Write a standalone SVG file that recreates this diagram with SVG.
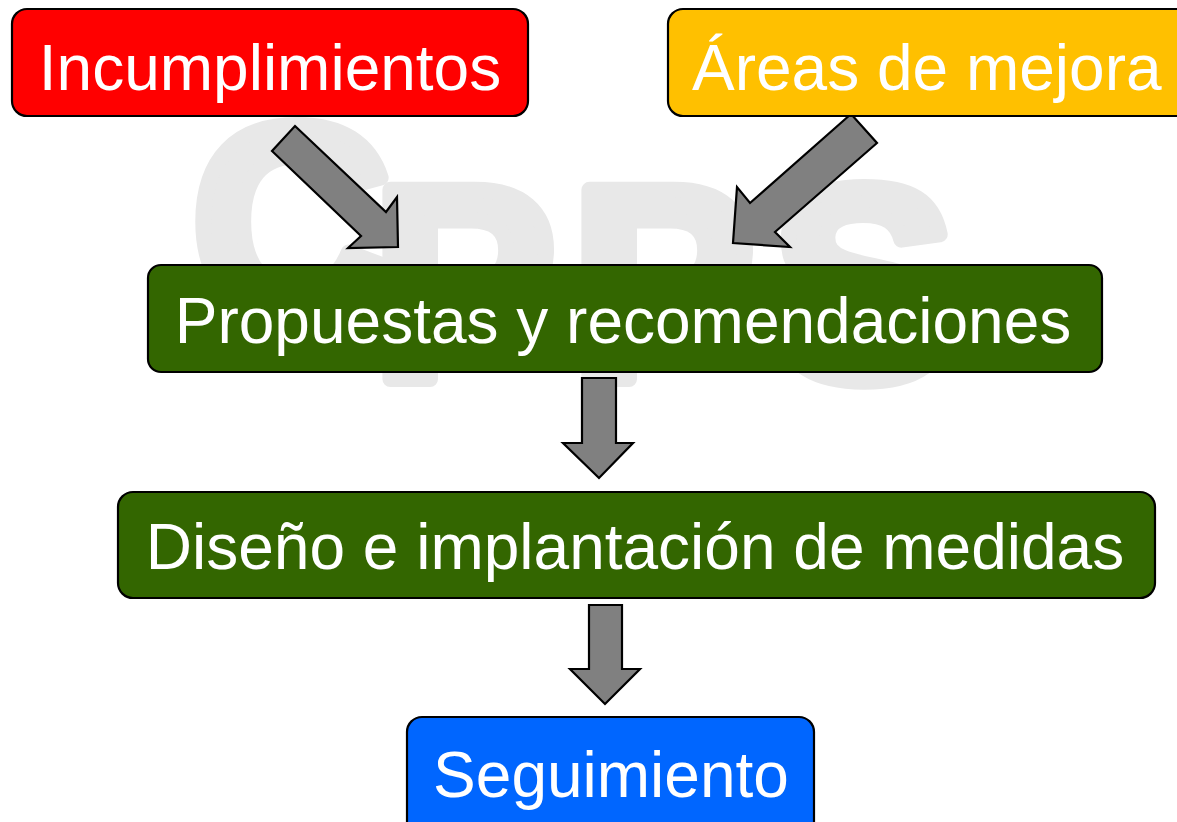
<svg xmlns="http://www.w3.org/2000/svg" width="1177" height="822" viewBox="0 0 1177 822">
  <style>
    .box { stroke: #000; stroke-width: 2.2; }
    .lbl { font-family: "Liberation Sans", Arial, sans-serif; font-size: 64px; fill: #fff; }
    .arr { fill: #808080; stroke: #000; stroke-width: 2.2; stroke-linejoin: miter; }
    .wm { font-family: "Liberation Sans", Arial, sans-serif; font-weight: 700; font-size: 275px; fill: #e8e8e8; stroke: #e8e8e8; stroke-width: 16px; stroke-linejoin: round; }
  </style>
  <rect width="1177" height="822" fill="#ffffff"/>
  <g id="watermark">
    <text class="wm" x="192 372 571 772" y="317 379 379 379">CPPS</text>
  </g>
  <g id="connectors">
    <polygon class="arr" points="295,126 386,212 397,197 398,247 348,248 361,236 272,151"/>
    <polygon class="arr" points="851,114 877,143 775,232 790,247 733,243 737,187 750,203"/>
    <polygon class="arr" points="582,378 616,378 616,443 633,443 599,478 563,443 582,443"/>
    <polygon class="arr" points="589,605 622,605 622,669 640,669 605,704 570,669 589,669"/>
  </g>
  <g id="incumplimientos">
    <rect class="box" x="12" y="9" width="516" height="107" rx="15" fill="#ff0000"/>
    <text class="lbl" x="270" y="90" text-anchor="middle">Incumplimientos</text>
  </g>
  <g id="areas">
    <rect class="box" x="668" y="9" width="530" height="107" rx="15" fill="#ffc000"/>
    <text class="lbl" x="692" y="90">Áreas de mejora</text>
  </g>
  <g id="propuestas">
    <rect class="box" x="148" y="265" width="954" height="107" rx="13" fill="#336600"/>
    <text class="lbl" x="623" y="343" text-anchor="middle">Propuestas y recomendaciones</text>
  </g>
  <g id="diseno">
    <rect class="box" x="118" y="492" width="1037" height="106" rx="15" fill="#336600"/>
    <text class="lbl" x="635" y="569" text-anchor="middle">Diseño e implantación de medidas</text>
  </g>
  <g id="seguimiento">
    <rect class="box" x="407" y="717" width="407" height="120" rx="15" fill="#0066ff"/>
    <text class="lbl" x="611" y="797" text-anchor="middle">Seguimiento</text>
  </g>
</svg>
